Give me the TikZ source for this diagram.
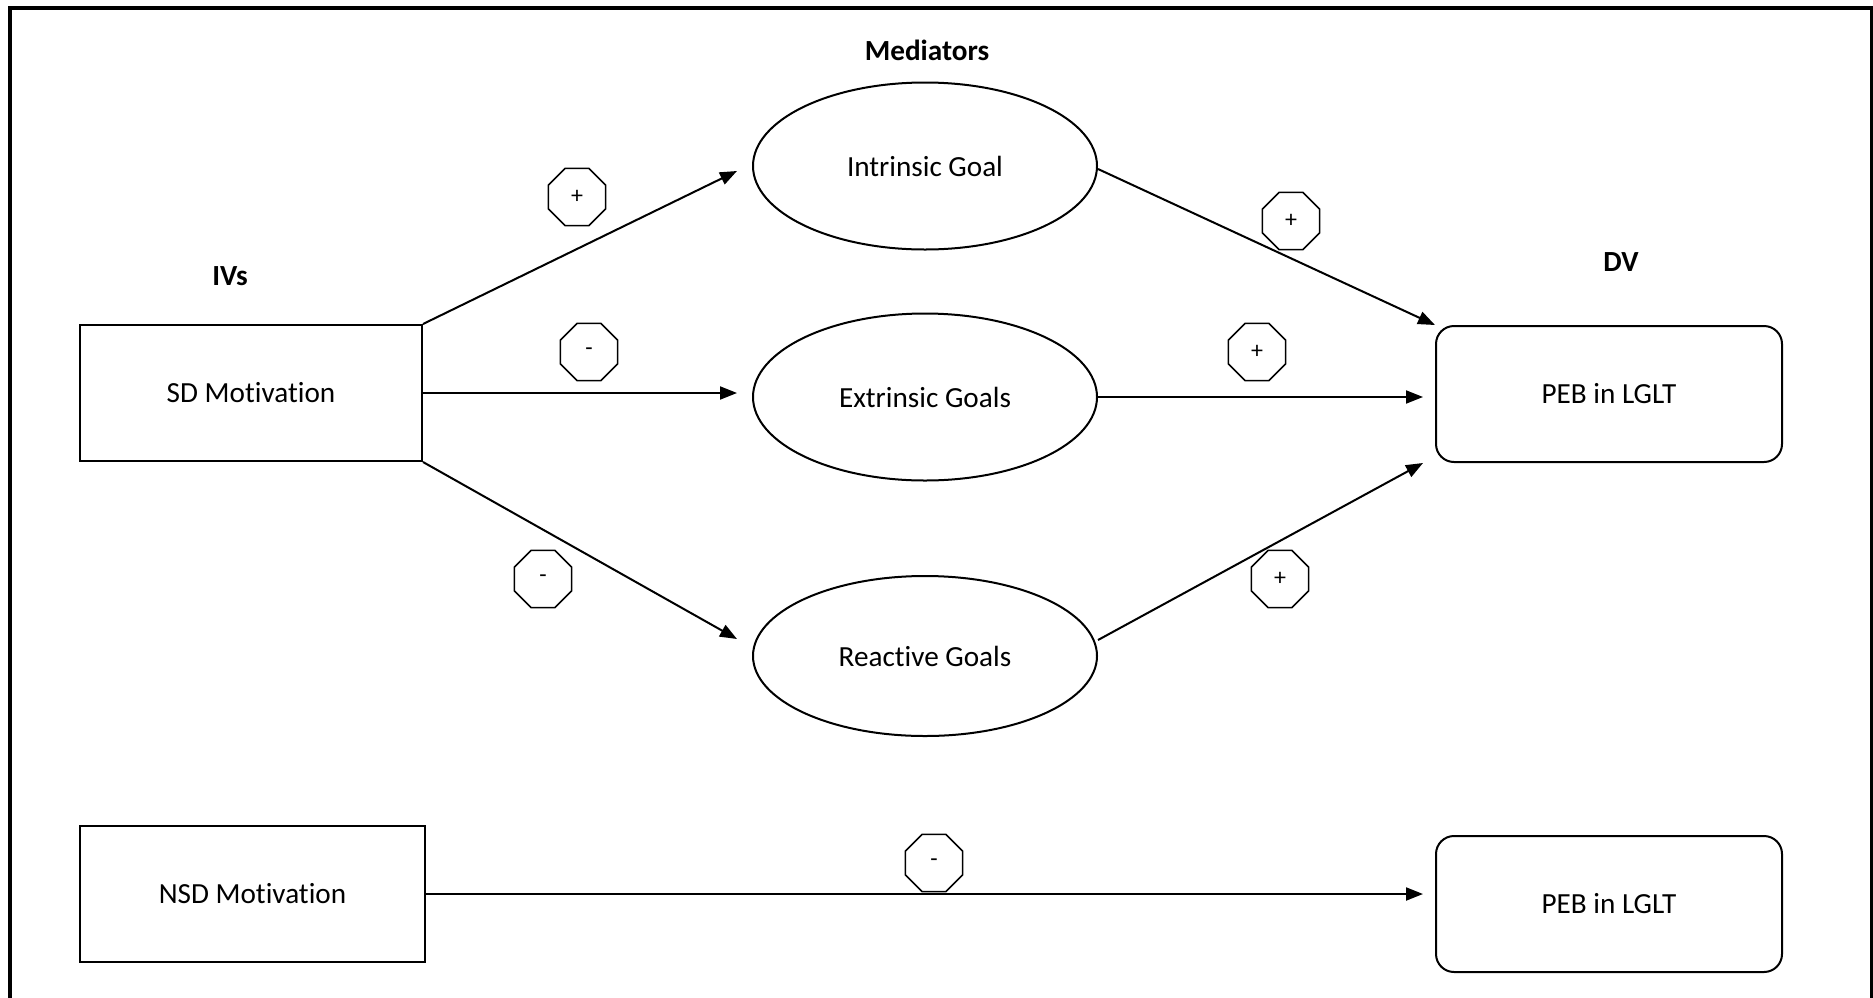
\documentclass[tikz,border=0pt]{standalone}
\usepackage{fontspec}
\setmainfont[Ligatures={NoCommon,NoRare}]{Carlito}
\usetikzlibrary{shapes.geometric,arrows.meta,calc}
\begin{document}
\begin{tikzpicture}[x=0.5pt,y=-0.5pt,
  every node/.style={font=\fontsize{14.6}{16}\selectfont},
  sqbox/.style={draw,line width=1pt,rectangle,minimum width=171pt,minimum height=68pt,inner sep=0pt},
  rbox/.style={draw,line width=1pt,rectangle,rounded corners=9pt,minimum width=173pt,minimum height=68pt,inner sep=0pt},
  goal/.style={draw,line width=1pt,ellipse,minimum width=172pt,minimum height=83.5pt,inner sep=0pt},
  sign/.style={draw,line width=0.8pt,regular polygon,regular polygon sides=8,minimum size=31pt,inner sep=0pt,font=\fontsize{12}{12}\selectfont},
  heading/.style={font=\fontsize{14.6}{16}\selectfont\bfseries},
  arr/.style={line width=1pt,-{Triangle[length=8.5pt,width=6.5pt]}},
  frame/.style={line width=2pt}
]
\useasboundingbox (0,0) rectangle (1873,997);
\draw[frame] (9.5,1000) -- (9.5,8) -- (1871.5,8) -- (1871.5,1000);

% headings
\node[heading] (hmed) at (927,50) {Mediators};
\node[heading] (hiv) at (230,276) {IVs};
\node[heading] (hdv) at (1621,262) {DV};

% nodes
\node[sqbox] (sd) at (251,393) {SD Motivation};
\node[sqbox,minimum width=172.5pt] (nsd) at (252.5,894) {NSD Motivation};
\node[goal] (intr) at (925,166) {Intrinsic Goal};
\node[goal] (extr) at (925,397) {Extrinsic Goals};
\node[goal,minimum height=80pt] (reac) at (925,656) {Reactive Goals};
\node[rbox] (peb1) at (1609,394) {PEB in LGLT};
\node[rbox] (peb2) at (1609,904) {PEB in LGLT};

% connectors
\draw[arr] (sd.north east) -- ($(intr.west)+(-15,5)$);
\draw[arr] (sd.east) -- ($(extr.west |- sd.east)+(-15,0)$);
\draw[arr] (sd.south east) -- ($(reac.west)+(-15,-17)$);
\draw[arr] ($(intr.east)+(0,3)$) -- (peb1.north west);
\draw[arr] (extr.east) -- ($(peb1.west |- extr.east)+(-12,0)$);
\draw[arr] ($(reac.east)+(0,-16)$) -- ($(peb1.south west)+(-12,0)$);
\draw[arr] (nsd.east) -- ($(peb2.west |- nsd.east)+(-12,0)$);

% signs
\node[sign] (s1) at (577,197) {+};
\node[sign] (s2) at (589,352) {-};
\node[sign] (s3) at (543,579) {-};
\node[sign] (s4) at (1291,221) {+};
\node[sign] (s5) at (1257,352) {+};
\node[sign] (s6) at (1280,579) {+};
\node[sign] (s7) at (934,863) {-};
\end{tikzpicture}
\end{document}
